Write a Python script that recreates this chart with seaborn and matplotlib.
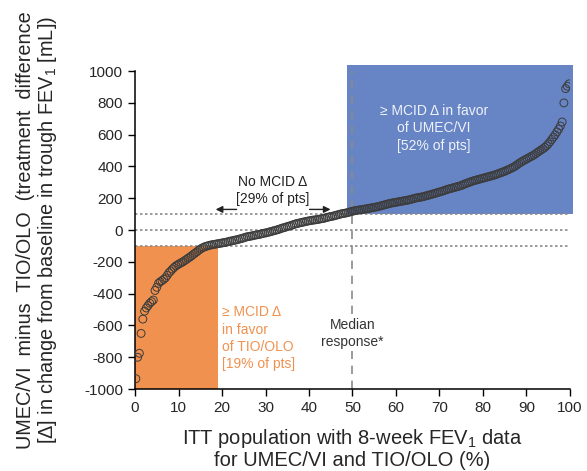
import numpy as np
import pandas as pd
import matplotlib
matplotlib.use("Agg")
import matplotlib.pyplot as plt
from matplotlib.patches import Rectangle
import seaborn as sns

# Sorted per-patient treatment differences (mL)
diff_ml = [
    -935, -800, -775, -650, -560, -510, -490, -475, -460, -450,
    -440, -380, -360, -335, -325, -318, -310, -300, -285, -268,
    -258, -245, -235, -225, -218, -212, -205, -200, -192, -185,
    -177, -170, -162, -153, -145, -137, -128, -120, -113, -108,
    -103, -100, -97, -94, -92, -90, -88, -86, -84, -82,
    -80, -78, -76, -73, -70, -68, -66, -63, -61, -58,
    -55, -52, -49, -45, -42, -40, -38, -36, -33, -31,
    -29, -27, -24, -21, -19, -17, -14, -11, -8, -5,
    -2, 1, 4, 8, 12, 15, 18, 22, 25, 28,
    32, 36, 40, 42, 45, 47, 50, 52, 55, 57,
    59, 61, 63, 64, 66, 68, 70, 72, 74, 77,
    80, 83, 85, 87, 90, 93, 96, 99, 102, 104,
    106, 108, 111, 114, 117, 120, 122, 124, 126, 128,
    129, 131, 133, 135, 137, 139, 141, 143, 145, 147,
    150, 153, 156, 159, 162, 165, 168, 170, 172, 174,
    176, 178, 180, 182, 184, 186, 188, 190, 193, 196,
    199, 202, 204, 206, 208, 210, 213, 216, 219, 222,
    225, 228, 231, 235, 238, 241, 244, 248, 252, 256,
    259, 262, 265, 268, 271, 274, 277, 280, 285, 290,
    294, 298, 302, 306, 310, 313, 316, 319, 322, 325,
    328, 331, 334, 337, 340, 343, 346, 350, 354, 358,
    362, 366, 370, 375, 380, 385, 390, 396, 402, 410,
    418, 425, 432, 438, 444, 450, 456, 462, 468, 474,
    482, 490, 498, 505, 512, 520, 530, 542, 555, 570,
    585, 600, 618, 635, 655, 680, 800, 890, 905, 920,
]

x_ticks = [0, 10, 20, 30, 40, 50, 60, 70, 80, 90, 100]
y_ticks = [-1000, -800, -600, -400, -200, 0, 200, 400, 600, 800, 1000]
mcid = 100
median_pct = 50
orange_pct = 19
blue_start_pct = 48.8

n = len(diff_ml)
pct = [(i + 0.5) / n * 100 for i in range(n)]
df = pd.DataFrame({"pct": pct, "diff": diff_ml})

sns.set_style("ticks")
plt.rcParams["font.family"] = ["Liberation Sans", "DejaVu Sans"]
plt.rcParams["axes.unicode_minus"] = False
plt.rcParams["mathtext.fontset"] = "custom"
plt.rcParams["mathtext.rm"] = "Liberation Sans"
plt.rcParams["mathtext.it"] = "Liberation Sans:italic"
plt.rcParams["mathtext.bf"] = "Liberation Sans:bold"

fig = plt.figure(figsize=(5.87, 4.71), dpi=100)
ax = fig.add_axes([0.230, 0.174, 0.741, 0.675])

orange = "#F0914F"
blue = "#6784C4"

ax.add_patch(Rectangle((0, -1000), orange_pct, 1000 - mcid, facecolor=orange,
                       edgecolor="none", zorder=1))
ax.add_patch(Rectangle((blue_start_pct, mcid), 100.8 - blue_start_pct, 1038 - mcid,
                       facecolor=blue, edgecolor="none", zorder=1, clip_on=False))

for yv in (-mcid, 0, mcid):
    ax.axhline(yv, color="#8a8a8a", linestyle=(0, (1.5, 1.5)), linewidth=1.2, zorder=2)
ax.plot([median_pct, median_pct], [-1000, 1000], color="#8a8a8a",
        linestyle=(0, (5, 4)), linewidth=1.2, zorder=2)

sns.scatterplot(data=df, x="pct", y="diff", ax=ax, marker="o", s=32,
                facecolor="none", edgecolor="#3c3c3c", linewidth=0.7, zorder=3)

ax.set_xlim(0, 100)
ax.set_ylim(-1000, 1000)
ax.set_xticks(x_ticks)
ax.set_yticks(y_ticks)
ax.tick_params(axis="both", labelsize=11, length=5, width=1, color="black", direction="out")
for s in ("top", "right"):
    ax.spines[s].set_visible(False)
for s in ("left", "bottom"):
    ax.spines[s].set_linewidth(1.1)
    ax.spines[s].set_color("black")

ax.set_xlabel("ITT population with 8-week FEV$_\\mathregular{1}$ data\nfor UMEC/VI and TIO/OLO (%)",
              fontsize=14.5, labelpad=9, linespacing=1.05)
ax.set_ylabel("UMEC/VI  minus  TIO/OLO  (treatment  difference\n[Δ] in change from baseline in trough FEV$_\\mathregular{1}$ [mL])",
              fontsize=14.3, labelpad=18, linespacing=1.05)

fs = 10
ax.text(31.7, 250, "No MCID Δ\n[29% of pts]", ha="center", va="center", fontsize=fs,
        color="#222222", linespacing=1.25)
ax.annotate("", xy=(17.9, 130), xytext=(24.0, 130),
            arrowprops=dict(arrowstyle="-|>", color="#222222", lw=1.0, mutation_scale=10))
ax.annotate("", xy=(45.6, 130), xytext=(39.5, 130),
            arrowprops=dict(arrowstyle="-|>", color="#222222", lw=1.0, mutation_scale=10))

ax.text(68.7, 640, "≥ MCID Δ in favor\nof UMEC/VI\n[52% of pts]", ha="center", va="center",
        fontsize=fs, color="#EEF2FA", linespacing=1.3)
ax.text(19.9, -680, "≥ MCID Δ\nin favor\nof TIO/OLO\n[19% of pts]", ha="left", va="center",
        fontsize=fs, color=orange, linespacing=1.3)
ax.text(50, -652, "Median\nresponse*", ha="center", va="center", fontsize=fs,
        color="#333333", linespacing=1.3,
        bbox=dict(facecolor="white", edgecolor="none", pad=1))

fig.savefig("out.png", dpi=100)
